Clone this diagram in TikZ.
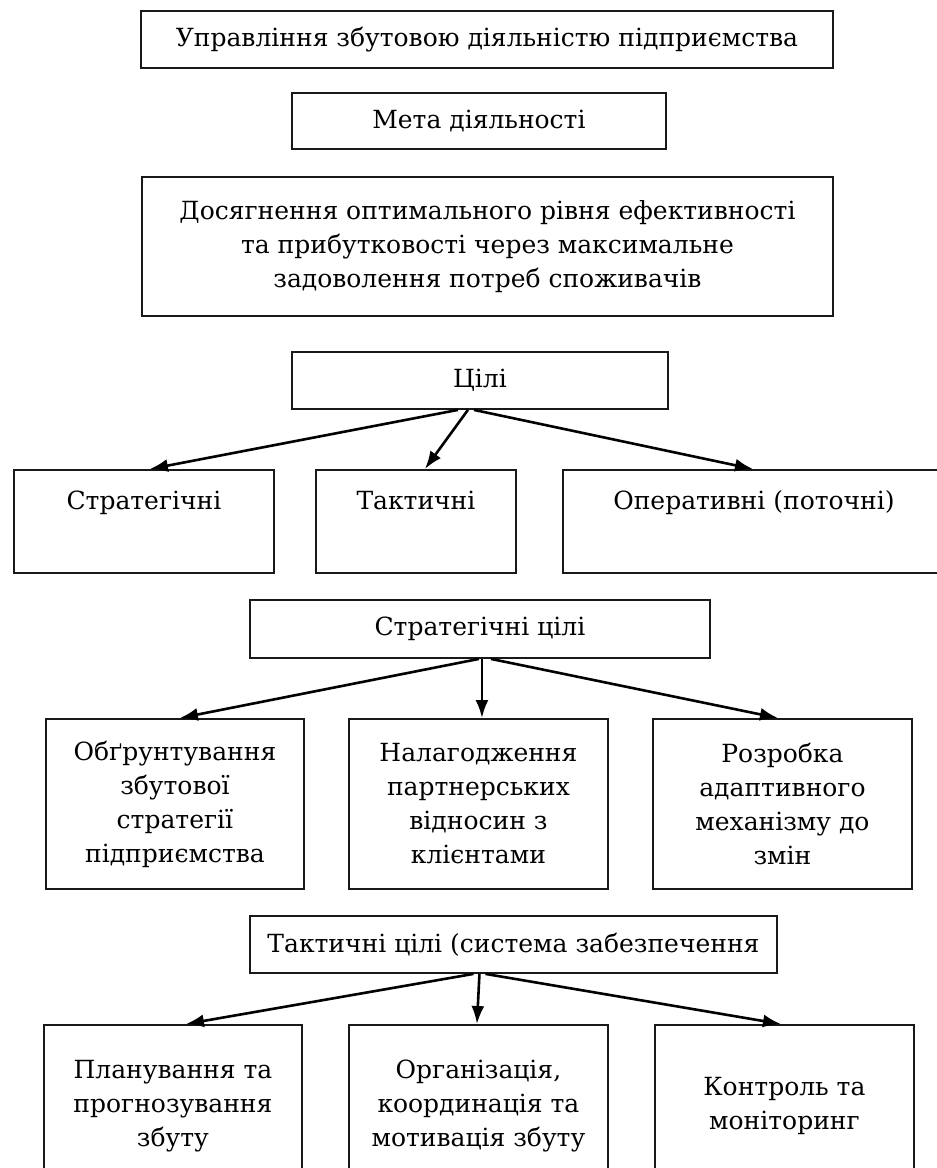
\documentclass[tikz,border=0pt]{standalone}
\usepackage{fontspec}
\setmainfont{DejaVu Serif}
\usetikzlibrary{arrows.meta}
\tikzset{
  box/.style={draw=black!90, line width=1.9pt, anchor=north west, inner sep=0pt,
    font=\fontsize{25}{34}\selectfont, align=center},
  toptext/.style={draw=black!90, line width=1.9pt, anchor=north west, inner sep=0pt,
    font=\fontsize{25}{34}\selectfont, text height=40pt, text depth=63pt},
  arr/.style={line width=2.6pt, -{Latex[length=18pt,width=13pt]}}
}
\begin{document}
\begin{tikzpicture}[x=1pt,y=-1pt]
\useasboundingbox (0,0) rectangle (937,1168);
\fill[white] (0,0) rectangle (937,1168);
% top blocks
\node[box, minimum width=692pt, minimum height=57pt] (upr) at (140,10) {Управління збутовою діяльністю підприємства};
\node[box, minimum width=374pt, minimum height=56pt] (meta) at (291,92) {Мета діяльності};
\node[box, minimum width=691pt, minimum height=139pt] (dos) at (141,176) {Досягнення оптимального рівня ефективності\\та прибутковості через максимальне\\задоволення потреб споживачів};
% goals
\node[box, minimum width=376pt, minimum height=57pt] (cili) at (291,351) {Цілі};
\node[toptext, minimum width=260pt, minimum height=103pt] (str) at (13,469) {Стратегічні};
\node[toptext, minimum width=200pt, minimum height=103pt] (tak) at (315,469) {Тактичні};
\node[toptext, minimum width=382pt, minimum height=103pt] (oper) at (562,469) {Оперативні (поточні)};
\draw[arr] ([xshift=-22pt]cili.south) -- ([xshift=6pt]str.north);
\draw[arr] ([xshift=-12pt]cili.south) -- ([xshift=9pt]tak.north);
\draw[arr] ([xshift=-6pt]cili.south) -- ([xshift=-1pt]oper.north);
% strategic goals
\node[box, minimum width=460pt, minimum height=58pt] (scili) at (249,599) {Стратегічні цілі};
\node[box, minimum width=258pt, minimum height=170pt] (s1) at (45,718) {Обґрунтування\\збутової\\стратегії\\підприємства};
\node[box, minimum width=259pt, minimum height=170pt] (s2) at (348,718) {Налагодження\\партнерських\\відносин з\\клієнтами};
\node[box, minimum width=259pt, minimum height=170pt] (s3) at (652,718) {Розробка\\адаптивного\\механізму до\\змін};
\draw[arr] ([xshift=-1pt]scili.south) -- ([xshift=5pt]s1.north);
\draw[arr] ([xshift=2pt]scili.south) -- ([xshift=3.5pt]s2.north);
\draw[arr] ([xshift=11pt]scili.south) -- ([xshift=-4.5pt]s3.north);
% tactical goals
\node[box, minimum width=527pt, minimum height=57pt] (tcili) at (249,915) {Тактичні цілі (система забезпечення};
\node[box, minimum width=258pt, minimum height=162pt] (t1) at (43,1024) {Планування та\\прогнозування\\збуту};
\node[box, minimum width=259pt, minimum height=162pt] (t2) at (348,1024) {Організація,\\координація та\\мотивація збуту};
\node[box, minimum width=259pt, minimum height=162pt] (t3) at (654,1024) {Контроль та\\моніторинг};
\draw[arr] ([xshift=-40pt]tcili.south) -- ([xshift=13pt]t1.north);
\draw[arr] ([xshift=-34pt]tcili.south) -- ([xshift=-1.5pt]t2.north);
\draw[arr] ([xshift=-28pt]tcili.south) -- ([xshift=-3.5pt]t3.north);
\end{tikzpicture}
\end{document}
